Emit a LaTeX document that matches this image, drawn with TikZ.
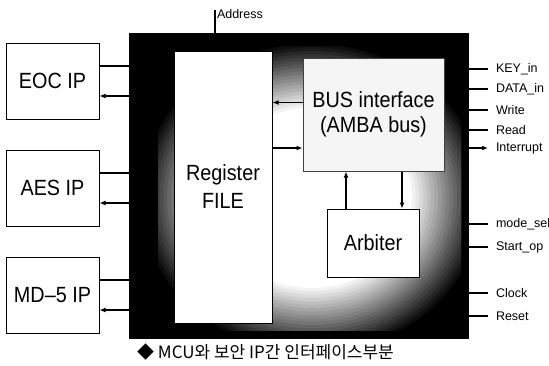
\documentclass[tikz,border=0pt]{standalone}
\usepackage{fontspec}
\setmainfont{Liberation Sans}
\newfontfamily\blockfont{Liberation Sans}[FakeStretch=0.9]
\newfontfamily\krfont{Noto Sans CJK KR}
\usetikzlibrary{arrows.meta,positioning,calc}

\begin{document}
\begin{tikzpicture}[x=1pt,y=-1pt,node distance=30pt]
\tikzset{ipbox/.style={draw,line width=1pt,fill=white,minimum width=93pt,minimum height=76pt,font=\blockfont\fontsize{22}{28}\selectfont},blk/.style={draw,line width=1pt,align=center,inner sep=0pt,font=\blockfont\fontsize{22}{28}\selectfont},sig/.style={anchor=west,inner sep=0pt,outer sep=8pt,font=\fontsize{12.5}{14}\selectfont},wire/.style={line width=1.3pt},arr/.style={-{Latex[length=6pt,width=5pt]},line width=1.3pt}}
\useasboundingbox (0,0) rectangle (549,365);
\node[fill=black,minimum width=340pt,minimum height=306pt,inner sep=0pt] (mcu) at (299,186) {};
\begin{scope}
\clip (158,46) rectangle (461,330);
\foreach \i [evaluate=\i as \c using int(100-5*\i),evaluate=\i as \r using 175-3.75*\i] in {0,...,20}
  \fill[black!\c] (312,198) ellipse ({\r} and {0.9*\r});
\end{scope}
\node[blk,fill=white,minimum width=98pt,minimum height=272pt] (reg) at (223,187) {Register\\FILE};
\node[blk,draw=black!75,fill=black!4,minimum width=141pt,minimum height=113pt] (bus) at (373.5,114.5) {BUS interface\\[-3pt](AMBA bus)};
\node[blk,fill=white,minimum width=92pt,minimum height=68pt] (arb) at (373,243) {Arbiter};
\node[ipbox] (eoc) at (52.5,81) {EOC IP};
\node[ipbox,below=of eoc] (aes) {AES IP};
\node[ipbox,below=of aes] (md) {MD–5 IP};
\foreach \ip in {eoc,aes,md}{\draw[wire]([yshift=15pt]\ip.east)--([yshift=15pt]\ip.east -| mcu.west);\draw[arr]([yshift=-15pt]\ip.east -| mcu.west)--([yshift=-15pt]\ip.east);}
\foreach \y/\nm/\txt in {69/key/KEY\_in,89/data/DATA\_in,110/wr/Write,130/rd/Read,224/mode/mode\_sel,247/start/Start\_op,293/clk/Clock,316/rst/Reset}{\node[sig] (\nm) at (488,\y) {\txt};\draw[wire](\nm.west -| mcu.east)--(\nm.west);}
\node[sig] (intr) at (488,148) {Interrupt};
\draw[arr](intr.west -| mcu.east)--(intr.west);
\node[sig,outer sep=0pt] (addr) at (217,14) {Address};
\coordinate (addrtop) at (215,10);
\draw[wire](addrtop |- mcu.north)--(addrtop);
\draw[arr]([yshift=12pt]bus.west)--([yshift=12pt]bus.west -| reg.east);
\draw[arr]([yshift=-33.5pt]bus.west -| reg.east)--([yshift=-33.5pt]bus.west);
\draw[arr]([xshift=-27pt]arb.north)--([xshift=-27pt]arb.north |- bus.south);
\draw[arr]([xshift=29pt]arb.north |- bus.south)--([xshift=29pt]arb.north);
\node[anchor=west,inner sep=0pt,font=\krfont\fontsize{17}{19}\selectfont] (cap) at (137,352) {◆ MCU와 보안 IP간 인터페이스부분};
\end{tikzpicture}
\end{document}
